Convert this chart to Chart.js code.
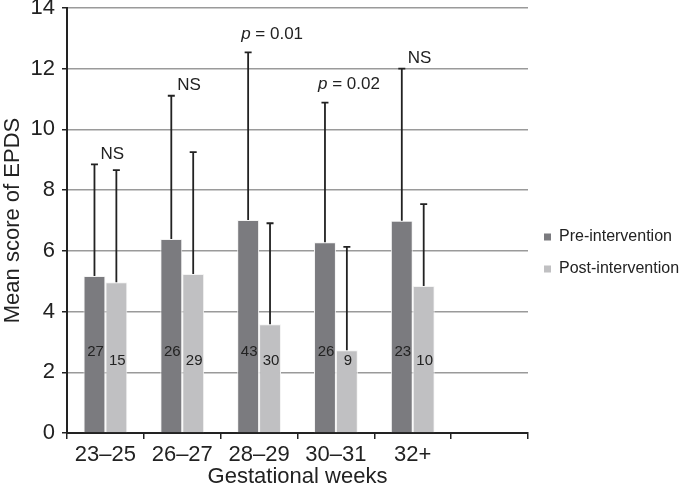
<!DOCTYPE html>
<html>
<head>
<meta charset="utf-8">
<script src="https://cdn.jsdelivr.net/npm/chart.js@4"></script>
<style>
html, body { margin: 0; background: #fff; }
</style>
</head>
<body>
<canvas id="myChart" width="685" height="492"></canvas>
<script>
let categories = ['23–25', '26–27', '28–29', '30–31', '32+', ''];
let preMeans = [5.17, 6.39, 7.02, 6.28, 6.99, null];
let postMeans = [4.97, 5.24, 3.58, 2.73, 4.84, null];
let preUpper = [8.85, 11.11, 12.54, 10.88, 12.0, null];
let postUpper = [8.66, 9.25, 6.91, 6.13, 7.54, null];
let preCounts = [27, 26, 43, 26, 23, null];
let postCounts = [15, 29, 30, 9, 10, null];
let pValues = [null, null, '0.01', '0.02', null]; // null means NS
let yTicks = [0, 2, 4, 6, 8, 10, 12, 14];

let font = 'Liberation Sans, Arial, Helvetica, sans-serif';
let ink = '#222';

// error bars, n counts, significance labels and the legend
let extras = {
    id: 'extras',
    afterDatasetsDraw(chart) {
        let c = chart.ctx;
        let y = chart.scales.y;
        let uppers = [preUpper, postUpper];
        let counts = [preCounts, postCounts];
        let countY = [2.67, 2.37];

        c.save();
        c.strokeStyle = ink;
        c.lineWidth = 1.8;
        chart.data.datasets.forEach((ds, d) => {
            chart.getDatasetMeta(d).data.forEach((bar, i) => {
                if (ds.data[i] == null) return;
                let top = y.getPixelForValue(uppers[d][i]);
                c.beginPath();
                c.moveTo(bar.x, bar.y);
                c.lineTo(bar.x, top);
                c.moveTo(bar.x - 3.5, top);
                c.lineTo(bar.x + 3.5, top);
                c.stroke();

                c.fillStyle = ink;
                c.font = '15px ' + font;
                c.textAlign = 'center';
                c.textBaseline = 'middle';
                c.fillText(counts[d][i], bar.x + 1, y.getPixelForValue(countY[d]));
            });
        });

        // NS / p labels above the pre-intervention whisker
        let pre = chart.getDatasetMeta(0).data;
        c.textAlign = 'left';
        c.textBaseline = 'middle';
        pre.forEach((bar, i) => {
            if (preMeans[i] == null) return;
            let top = y.getPixelForValue(preUpper[i]);
            if (pValues[i] == null) {
                c.font = '17px ' + font;
                c.fillText('NS', bar.x + 6, top - 10);
            } else {
                let x0 = bar.x - 7;
                c.font = 'italic 17px ' + font;
                c.fillText('p', x0, top - 18);
                let w = c.measureText('p').width;
                c.font = '17px ' + font;
                c.fillText(' = ' + pValues[i], x0 + w, top - 18);
            }
        });

        // legend
        let area = chart.chartArea;
        let mid = (area.top + area.bottom) / 2;
        c.font = '16px ' + font;
        chart.data.datasets.forEach((ds, d) => {
            let ly = mid + 16.5 + d * 32;
            c.fillStyle = ds.backgroundColor;
            c.fillRect(area.right + 16, ly - 3.5, 7, 7);
            c.fillStyle = ink;
            c.fillText(ds.label, area.right + 31, ly);
        });
        c.restore();
    }
};

let ctx = document.getElementById('myChart').getContext('2d');

let myChart = new Chart(ctx, {
    type: 'bar',
    data: {
        labels: categories,
        datasets: [{
            label: 'Pre-intervention',
            data: preMeans,
            backgroundColor: '#7b7b7f',
            borderColor: '#f4f4f4',
            borderWidth: 1
        }, {
            label: 'Post-intervention',
            data: postMeans,
            backgroundColor: '#c0c0c2',
            borderColor: '#f4f4f4',
            borderWidth: 1
        }]
    },
    options: {
        responsive: false,
        animation: false,
        categoryPercentage: 0.57,
        barPercentage: 1.0,
        layout: {
            padding: { top: 8, right: 157, left: 0, bottom: 0 }
        },
        scales: {
            x: {
                afterFit: s => { s.height = 59; },
                grid: {
                    offset: true,
                    drawOnChartArea: false,
                    color: ink,
                    lineWidth: 1.5,
                    tickLength: 6
                },
                border: { color: ink, width: 2 },
                ticks: {
                    color: ink,
                    padding: 3,
                    font: { family: font, size: 22 }
                },
                title: {
                    display: true,
                    text: 'Gestational weeks',
                    color: ink,
                    padding: { top: 0, bottom: 2 },
                    font: { family: font, size: 22 }
                }
            },
            y: {
                min: 0,
                max: 14,
                afterFit: s => { s.width = 67; s.paddingTop = 0; s.paddingBottom = 0; },
                afterBuildTicks: s => { s.ticks = yTicks.map(v => ({ value: v })); },
                grid: {
                    color: '#9a9a9a',
                    lineWidth: 1.5,
                    tickColor: ink,
                    tickLength: 5
                },
                border: { color: ink, width: 2 },
                ticks: {
                    color: ink,
                    padding: 7,
                    font: { family: font, size: 22 }
                },
                title: {
                    display: true,
                    text: 'Mean score of EPDS',
                    color: ink,
                    padding: 0,
                    font: { family: font, size: 22 }
                }
            }
        },
        plugins: {
            legend: { display: false },
            tooltip: { enabled: false }
        }
    },
    plugins: [extras]
});
</script>
</body>
</html>
